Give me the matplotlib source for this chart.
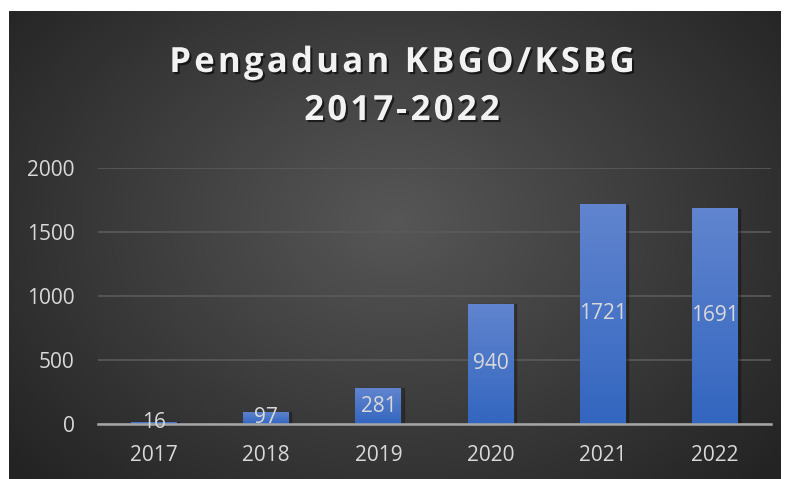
import matplotlib.pyplot as plt
import matplotlib.patheffects as pe
from matplotlib.font_manager import FontProperties
import numpy as np

years = ['2017', '2018', '2019', '2020', '2021', '2022']
pengaduan = [16, 97, 281, 940, 1721, 1691]
y_ticks = [0, 500, 1000, 1500, 2000]
title_lines = ['Pengaduan KBGO/KSBG', '2017-2022']

plt.rcParams['font.family'] = ['Open Sans', 'DejaVu Sans']

W, H = 788, 479
fig = plt.figure(figsize=(W / 100, H / 100), dpi=100)
fig.patch.set_facecolor('white')

# dark radial background
bg = fig.add_axes([9 / W, 0, 772 / W, 468 / H])
yy, xx = np.mgrid[0:1:300j, 0:1:500j]
r = np.sqrt(((xx - 0.5) / 0.62) ** 2 + ((yy - 0.55) / 0.75) ** 2)
shade = np.clip(0.34 - 0.19 * r, 0.14, 0.34)
bg.imshow(np.dstack([shade] * 3), extent=[0, 1, 0, 1], aspect='auto', origin='lower')
bg.set_axis_off()

ax = fig.add_axes([98 / W, 55 / H, 673 / W, 256 / H])
ax.set_facecolor('none')
x = np.arange(len(years))
bars = ax.bar(x, pengaduan, width=0.41, color='#4472c4', zorder=3)

# gradient fill and soft shadow on each bar
grad = np.linspace(0, 1, 100).reshape(-1, 1)
top_c = np.array([0.38, 0.52, 0.81])
bot_c = np.array([0.20, 0.40, 0.75])
img = (bot_c + (top_c - bot_c) * grad)[:, None, :].repeat(2, axis=1)
for b in bars:
    bx, by = b.get_x(), b.get_y()
    w, h = b.get_width(), b.get_height()
    sh = plt.Rectangle((bx + 0.02, by), w, h * 0.995, color='black', alpha=0.25, zorder=2)
    ax.add_patch(sh)
    im = ax.imshow(img, extent=[bx, bx + w, by, by + h], aspect='auto', origin='lower', zorder=4)
    im.set_clip_path(b)

ax.set_xlim(-0.5, len(years) - 0.5)
ax.set_ylim(0, 2000)
ax.set_yticks(y_ticks)
ax.set_xticks(x, years)
ax.grid(axis='y', color='#5a5a5a', linewidth=1.2, zorder=0)
ax.set_axisbelow(True)
for s in ['top', 'right', 'left']:
    ax.spines[s].set_visible(False)
ax.spines['bottom'].set_color('#a6a6a6')
ax.spines['bottom'].set_linewidth(1.8)
ax.spines['bottom'].set_zorder(5)
ax.tick_params(axis='both', length=0, colors='#d9d9d9', labelsize=15)
ax.tick_params(axis='y', pad=17)
ax.tick_params(axis='x', pad=15)

for xi, v in zip(x, pengaduan):
    ax.text(xi, v / 2, str(v), ha='center', va='center', color='#d9d9d9',
            fontsize=15, zorder=6)

# title with letter spacing, drawn char by char
shadow = [pe.withSimplePatchShadow(offset=(1.5, -1.5), shadow_rgbFace='black', alpha=0.6)]
fp = FontProperties(family='Open Sans', weight='bold', size=25)
renderer = fig.canvas.get_renderer()
spacing = 3.2  # px between letters
for line, base_y in zip(title_lines, [72, 120]):
    widths = [renderer.get_text_width_height_descent(line[:i], fp, ismath=False)[0] if i else 0
              for i in range(len(line) + 1)]
    total = widths[-1] + spacing * (len(line) - 1)
    x0 = 402 - total / 2
    for i, ch in enumerate(line):
        if ch == ' ':
            continue
        fig.text((x0 + widths[i] + spacing * i) / W, 1 - base_y / H, ch,
                 ha='left', va='baseline', color='#f2f2f2', fontproperties=fp,
                 path_effects=shadow)

fig.savefig('out.png', dpi=100, facecolor=fig.get_facecolor())
